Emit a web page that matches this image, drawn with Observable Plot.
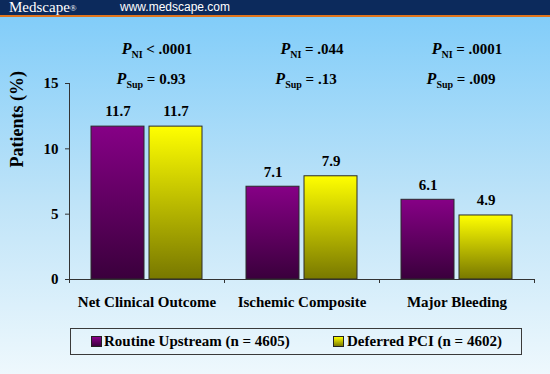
<!DOCTYPE html>
<html><head><meta charset="utf-8">
<script src="https://cdn.jsdelivr.net/npm/d3@7"></script>
<script src="https://cdn.jsdelivr.net/npm/@observablehq/plot@0.6"></script>
<style>
html,body{margin:0;padding:0;}
#page{position:relative;width:550px;height:374px;overflow:hidden;
 background:linear-gradient(to bottom,#0c2a5c 0px,#0c2a5c 15px,#e0741c 15px,#e0741c 17px,#82cdf9 17px,#c0e4f8 55%,#eef8fd 100%);
 font-family:"Liberation Serif",serif;}
#logo{position:absolute;left:9px;top:0;height:15px;line-height:15px;color:#fff;font-family:"Liberation Serif",serif;font-size:15px;}
#logo sup{font-size:9px;vertical-align:1px;}
#url{position:absolute;left:120px;top:0;height:15px;line-height:15px;color:#fff;font-family:"Liberation Sans",Arial,sans-serif;font-size:12px;}
#chart{position:absolute;left:0;top:17px;}
#legend{position:absolute;left:70px;top:328px;width:450px;height:25px;border:1px solid #3a3a3a;}
.sw{position:absolute;top:7px;width:9px;height:9px;border:1px solid #222;}
.lt{position:absolute;top:0;height:25px;line-height:25px;font-weight:bold;font-size:15px;color:#000;white-space:nowrap;}
</style></head>
<body>
<div id="page">
 <div id="logo">Medscape<sup>®</sup></div>
 <div id="url">www.medscape.com</div>
 <div id="chart"></div>
 <div id="legend">
  <div class="sw" id="sw0" style="left:20px;background:linear-gradient(#8a008a,#3c003e);"></div>
  <div class="lt" id="lt0" style="left:33px;"></div>
  <div class="sw" id="sw1" style="left:262px;background:linear-gradient(#ffff00,#7a7a00);"></div>
  <div class="lt" id="lt1" style="left:276px;"></div>
 </div>
</div>
<script>
const groups = ["Net Clinical Outcome", "Ischemic Composite", "Major Bleeding"];
const seriesNames = ["Routine Upstream (n = 4605)", "Deferred PCI (n = 4602)"];
const routine = [11.7, 7.1, 6.1];
const deferred = [11.7, 7.9, 4.9];
const pNI = ["< .0001", "= .044", "= .0001"];
const pSup = ["= 0.93", "= .13", "= .009"];
const yTicks = [0, 5, 10, 15];
const yLabel = "Patients (%)";

document.getElementById("lt0").textContent = seriesNames[0];
document.getElementById("lt1").textContent = seriesNames[1];

const routineData = groups.map((g, i) => ({group: g, series: seriesNames[0], value: routine[i]}));
const deferredData = groups.map((g, i) => ({group: g, series: seriesNames[1], value: deferred[i]}));

const serif = "'Liberation Serif', 'Times New Roman', serif";
const chart = Plot.plot({
  width: 550, height: 305,
  marginLeft: 69, marginRight: 16, marginTop: 66, marginBottom: 43,
  style: {background: "transparent", fontFamily: serif, fontWeight: "bold", fontSize: "15px", color: "#000", overflow: "visible"},
  x: {domain: groups, padding: 0, axis: null},
  y: {domain: [0, 15], axis: null},
  marks: [
    Plot.barY(routineData, {x: "group", y: "value", insetLeft: 22, insetRight: 80, fill: "url(#gPurple)", stroke: "#2a2a2a", strokeWidth: 1}),
    Plot.barY(deferredData, {x: "group", y: "value", insetLeft: 80, insetRight: 22, fill: "url(#gYellow)", stroke: "#2a2a2a", strokeWidth: 1}),
    Plot.ruleY([0], {stroke: "#333"}),
    Plot.axisY({ticks: yTicks, tickSize: 4, tickPadding: 7, stroke: "#333", label: null, fontSize: 15, fontWeight: "bold"}),
    Plot.axisX({tickSize: 0, tickPadding: 17, label: null, fontSize: 15, fontWeight: "bold"}),
    Plot.text(routineData, {x: "group", y: "value", text: d => d.value.toFixed(1), dx: -29, dy: -15, lineAnchor: "middle", fontSize: 15, fontWeight: "bold", fill: "#000"}),
    Plot.text(deferredData, {x: "group", y: "value", text: d => d.value.toFixed(1), dx: 29, dy: -15, lineAnchor: "middle", fontSize: 15, fontWeight: "bold", fill: "#000"}),
    Plot.text([yLabel], {frameAnchor: "left", rotate: -90, dx: -52, dy: -14, fontSize: 18, fontWeight: "bold", fill: "#000"}),
    Plot.text(groups, {x: d => d, text: (d, i) => "PNI " + pNI[i], frameAnchor: "top", dy: -34, dx: 10, lineAnchor: "middle", fontSize: 15, fontWeight: "bold", fontFamily: serif, fill: "#000", ariaDescription: "pni"}),
    Plot.text(groups, {x: d => d, text: (d, i) => "PSup " + pSup[i], frameAnchor: "top", dy: -4, dx: 4, lineAnchor: "middle", fontSize: 15, fontWeight: "bold", fontFamily: serif, fill: "#000", ariaDescription: "psup"})
  ]
});

const svg = d3.select(chart);
const defs = svg.insert("defs", ":first-child");
const gp = defs.append("linearGradient").attr("id", "gPurple").attr("x1", 0).attr("y1", 0).attr("x2", 0).attr("y2", 1);
gp.append("stop").attr("offset", "0%").attr("stop-color", "#860086");
gp.append("stop").attr("offset", "100%").attr("stop-color", "#3a003c");
const gy = defs.append("linearGradient").attr("id", "gYellow").attr("x1", 0).attr("y1", 0).attr("x2", 0).attr("y2", 1);
gy.append("stop").attr("offset", "0%").attr("stop-color", "#ffff00");
gy.append("stop").attr("offset", "100%").attr("stop-color", "#787800");

const xs = chart.scale("x"), ys = chart.scale("y");
const y0 = ys.apply(0), y15 = ys.apply(15);
const bounds = groups.map(g => xs.apply(g)).concat([xs.apply(groups[groups.length - 1]) + xs.bandwidth]);
const ax = svg.append("g").attr("stroke", "#333");
ax.append("line").attr("x1", bounds[0] + 0.5).attr("x2", bounds[0] + 0.5).attr("y1", y0).attr("y2", y15);
bounds.forEach(b => ax.append("line").attr("x1", b + 0.5).attr("x2", b + 0.5).attr("y1", y0).attr("y2", y0 + 4));

function subscriptify(desc, sub, vals) {
  svg.selectAll(`g[aria-description="${desc}"] text`).each(function(_, i) {
    const t = d3.select(this);
    t.text(null);
    t.append("tspan").attr("font-style", "italic").attr("font-size", 16).text("P");
    t.append("tspan").attr("font-size", 10).attr("dy", 4).text(sub);
    t.append("tspan").attr("dy", -4).text(" " + vals[i]);
  });
}
subscriptify("pni", "NI", pNI);
subscriptify("psup", "Sup", pSup);

document.getElementById("chart").appendChild(chart);
</script>
</body></html>
